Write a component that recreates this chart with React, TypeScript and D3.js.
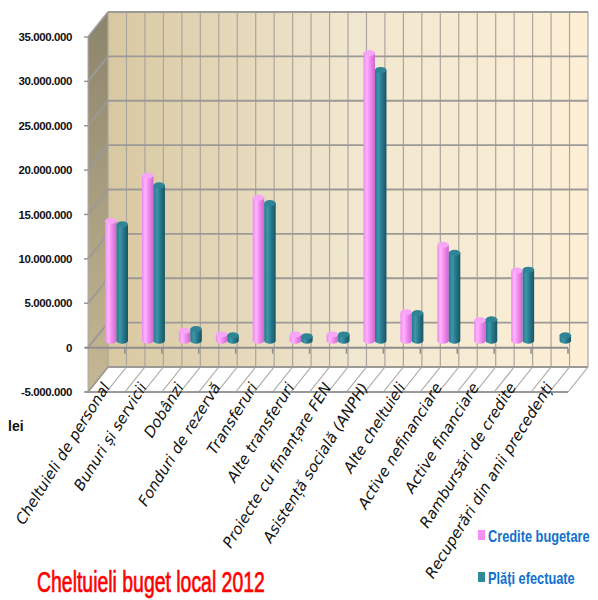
import React from 'react';
import * as d3 from 'd3';

const categories = [
  'Cheltuieli de personal',
  'Bunuri și servicii',
  'Dobânzi',
  'Fonduri de rezervă',
  'Transferuri',
  'Alte transferuri',
  'Proiecte cu finanțare FEN',
  'Asistență socială (ANPH)',
  'Alte cheltuieli',
  'Active nefinanciare',
  'Active financiare',
  'Rambursări de credite',
  'Recuperări din anii precedenți'
];

const crediteBugetare = [
  13500000, 18600000, 1100000, 700000, 16100000, 700000, 700000,
  32400000, 3200000, 10800000, 2300000, 7900000, 0
];

const platiEfectuate = [
  13100000, 17500000, 1300000, 600000, 15500000, 500000, 700000,
  30500000, 3100000, 9900000, 2400000, 8000000, 600000
];

const seriesNames = ['Credite bugetare', 'Plăți efectuate'];
const yTicks = [-5000000, 0, 5000000, 10000000, 15000000, 20000000, 25000000, 30000000, 35000000];

const W = 598;
const H = 600;

// 3d box geometry
const front = { left: 88, right: 568 };
const depth = { dx: 20, dy: -25 };
const barShift = { dx: 0, dy: -7 };

const colors = {
  pink: { main: '#ef88ef', light: '#ffb4ff', dark: '#cf66cf', top: '#f7a6f7' },
  teal: { main: '#27788a', light: '#3c97aa', dark: '#175565', top: '#2f8596' }
};

function fmt(v: number) {
  if (v === 0) return '0';
  const s = d3.format(',')(Math.abs(v)).replace(/,/g, '.');
  return (v < 0 ? '-' : '') + s;
}

export default function App() {
  const y = d3.scaleLinear().domain([-5000000, 35000000]).range([392, 37]);
  const x = d3.scaleBand<string>().domain(categories).range([front.left, front.right]);
  const inner = d3
    .scaleBand<number>()
    .domain([0, 1])
    .range([17, 40]);

  const backTop = y(35000000) + depth.dy;
  const backBottom = y(-5000000) + depth.dy;
  const backLeft = front.left + depth.dx;
  const backRight = front.right + depth.dx;

  const vLines = d3.range(27).map(k => backLeft + (k * (backRight - backLeft)) / 26);

  const series = [crediteBugetare, platiEfectuate];
  const pal = [colors.pink, colors.teal];

  const bars = categories.map((c, i) => (
    <g key={c}>
      {series.map((vals, s) => {
        const v = vals[i];
        if (v <= 0) return null;
        const bx = x(c)! + inner(s)! + barShift.dx;
        const bw = inner.bandwidth();
        const base = y(0) + barShift.dy;
        const top = y(v) + barShift.dy;
        const ry = 3;
        const p = pal[s];
        return (
          <g key={s}>
            <path
              d={`M${bx},${top} L${bx},${base} A${bw / 2},${ry} 0 0 0 ${bx + bw},${base} L${bx + bw},${top} Z`}
              fill={`url(#cyl${s})`}
            />
            <ellipse cx={bx + bw / 2} cy={top} rx={bw / 2} ry={ry} fill={p.top} />
          </g>
        );
      })}
    </g>
  ));

  return (
    <svg
      width={W}
      height={H}
      style={{ position: 'absolute', left: 0, top: 0, background: '#fff' }}
      fontFamily="'Liberation Sans', Arial, sans-serif"
    >
      <defs>
        <linearGradient id="backWall" x1="0" x2="1" y1="0" y2="0">
          <stop offset="0" stopColor="#d8c8a1" />
          <stop offset="0.5" stopColor="#f1e6cf" />
          <stop offset="1" stopColor="#fdefd6" />
        </linearGradient>
        <linearGradient id="sideWall" x1="0" x2="0" y1="0" y2="1">
          <stop offset="0" stopColor="#8b846c" />
          <stop offset="1" stopColor="#c6b894" />
        </linearGradient>
        {pal.map((p, s) => (
          <linearGradient key={s} id={`cyl${s}`} x1="0" x2="1" y1="0" y2="0">
            <stop offset="0" stopColor={p.main} />
            <stop offset="0.3" stopColor={p.light} />
            <stop offset="0.6" stopColor={p.main} />
            <stop offset="1" stopColor={p.dark} />
          </linearGradient>
        ))}
      </defs>

      {/* walls and floor */}
      <rect
        x={backLeft}
        y={backTop}
        width={backRight - backLeft}
        height={backBottom - backTop}
        fill="url(#backWall)"
      />
      <polygon
        points={`${front.left},${y(35000000)} ${backLeft},${backTop} ${backLeft},${backBottom} ${front.left},${y(-5000000)}`}
        fill="url(#sideWall)"
      />
      <polygon
        points={`${front.left},${y(-5000000)} ${backLeft},${backBottom} ${backRight},${backBottom} ${front.right},${y(-5000000)}`}
        fill="#fff"
      />

      {/* vertical gridlines on back wall and floor */}
      {vLines.map((vx, k) => (
        <g key={k} stroke="#aaa69e" strokeWidth={1.2}>
          <line x1={vx} x2={vx} y1={backTop} y2={backBottom} />
          <line x1={vx} x2={vx - depth.dx} y1={backBottom} y2={backBottom - depth.dy} />
        </g>
      ))}

      {/* horizontal gridlines */}
      {yTicks.map(t => (
        <g key={t} stroke="#9c9a96" strokeWidth={1.8}>
          <line x1={backLeft} x2={backRight} y1={y(t) + depth.dy} y2={y(t) + depth.dy} />
          <line x1={front.left} x2={backLeft} y1={y(t)} y2={y(t) + depth.dy} />
        </g>
      ))}

      {/* floor front edge and axis lines */}
      <line x1={front.left - 3} x2={front.right} y1={y(-5000000)} y2={y(-5000000)} stroke="#999" strokeWidth={2} />
      <line x1={front.left} x2={front.left} y1={y(35000000)} y2={y(-5000000)} stroke="#aaa" strokeWidth={1} />
      {yTicks.map(t => (
        <line key={t} x1={front.left - 4} x2={front.left} y1={y(t)} y2={y(t)} stroke="#999" strokeWidth={1.5} />
      ))}

      {bars}

      {/* category axis at zero */}
      <line x1={front.left - 3} x2={front.right} y1={y(0)} y2={y(0)} stroke="#8e8e8e" strokeWidth={2} />
      {d3.range(categories.length + 1).map(k => {
        const tx = front.left + k * x.step();
        return k === 0 ? null : (
          <line key={k} x1={tx} x2={tx} y1={y(0)} y2={y(0) + 6} stroke="#8e8e8e" strokeWidth={1.5} />
        );
      })}

      {/* y tick labels */}
      {yTicks.map(t => (
        <text
          key={t}
          x={72}
          y={y(t) + 4}
          textAnchor="end"
          fontSize={11.5}
          fontWeight="bold"
          letterSpacing={-0.4}
          fill="#111"
        >
          {fmt(t)}
        </text>
      ))}
      <text x={8} y={431} fontSize={14} fontWeight="bold" fill="#111">
        lei
      </text>

      {/* category labels */}
      {categories.map(c => {
        const cx = x(c)! + x.bandwidth() / 2 + 4;
        const cy = 387;
        return (
          <text
            key={c}
            transform={`translate(${cx},${cy}) rotate(-58)`}
            textAnchor="end"
            fontSize={15}
            fontStyle="italic"
            fontFamily="'DejaVu Sans', Verdana, sans-serif"
            fill="#111"
          >
            {c}
          </text>
        );
      })}

      {/* title */}
      <g transform="translate(37, 592) scale(0.67, 1)">
        <text x={0} y={0} fontSize={29} fill="#ff0000" stroke="#ff0000" strokeWidth={0.7}>
          Cheltuieli buget local 2012
        </text>
      </g>

      {/* legend */}
      {seriesNames.map((n, s) => (
        <g key={n} transform={`translate(478, ${530 + s * 42})`}>
          <rect x={0} y={0} width={7} height={10} fill={s === 0 ? '#f58ef5' : '#2e8a99'} />
          <g transform="translate(10, 12) scale(0.8, 1)">
            <text x={0} y={0} fontSize={16} fontWeight="bold" fill="#1170cf">
              {n}
            </text>
          </g>
        </g>
      ))}
    </svg>
  );
}
